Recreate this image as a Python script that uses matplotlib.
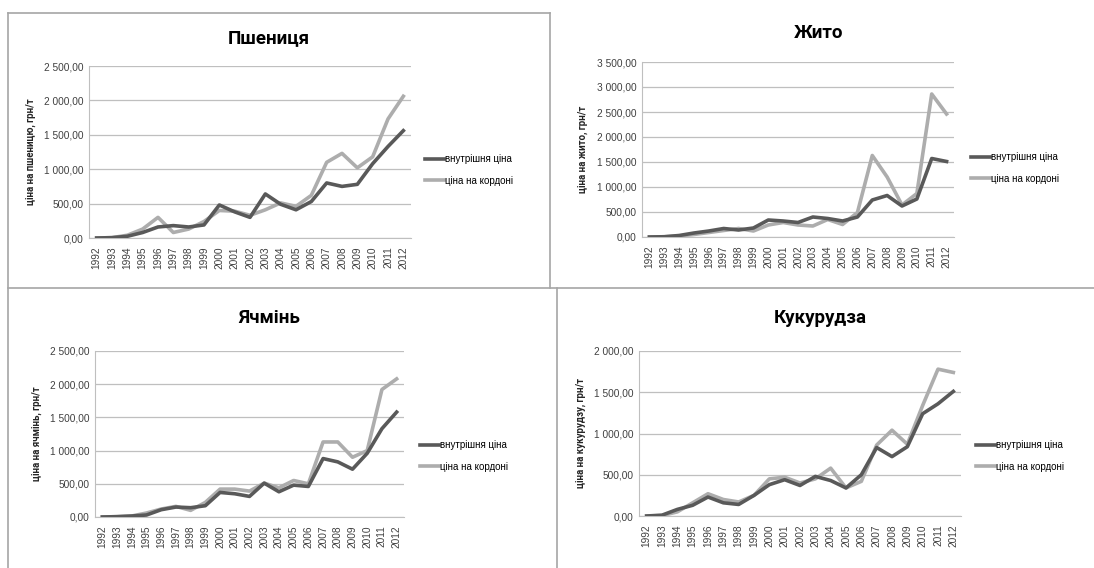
import matplotlib.pyplot as plt
from matplotlib.ticker import FuncFormatter, MultipleLocator

plt.rcParams['font.family'] = ['Liberation Sans Narrow', 'Liberation Sans', 'DejaVu Sans']

years = [str(y) for y in range(1992, 2013)]

wheat_inner = [0, 5, 25, 80, 160, 180, 160, 190, 480, 380, 300, 640, 490, 410, 530, 800, 750, 780, 1080, 1330, 1560]
wheat_border = [0, 5, 40, 130, 300, 80, 130, 240, 400, 390, 330, 410, 510, 460, 620, 1100, 1230, 1020, 1180, 1730, 2060]

rye_inner = [0, 5, 30, 80, 120, 170, 140, 180, 340, 320, 290, 400, 370, 320, 400, 740, 830, 620, 760, 1570, 1510]
rye_border = [0, 5, 20, 50, 90, 130, 170, 120, 240, 290, 240, 220, 350, 250, 490, 1630, 1200, 640, 870, 2860, 2460]

barley_inner = [0, 5, 15, 30, 110, 150, 140, 170, 370, 350, 310, 510, 380, 480, 460, 880, 830, 720, 960, 1330, 1580]
barley_border = [0, 5, 15, 60, 120, 160, 100, 220, 420, 420, 390, 510, 440, 550, 500, 1130, 1130, 900, 1000, 1920, 2080]

corn_inner = [0, 10, 80, 130, 230, 160, 140, 250, 380, 440, 370, 480, 430, 340, 500, 830, 720, 840, 1240, 1360, 1510]
corn_border = [0, 5, 50, 160, 270, 200, 170, 250, 450, 470, 400, 450, 580, 340, 420, 860, 1040, 870, 1340, 1780, 1740]

series_names = ['внутрішня ціна', 'ціна на кордоні']

W, H = 1094, 568
fig = plt.figure(figsize=(W / 100, H / 100), dpi=100)


def px_rect(x0, y0, x1, y1):
    # pixel box (top-left origin) -> figure fraction [left, bottom, width, height]
    return [x0 / W, 1 - y1 / H, (x1 - x0) / W, (y1 - y0) / H]


def fmt(v, pos):
    return f"{v:,.2f}".replace(",", " ").replace(".", ",")


# panel borders
bg = fig.add_axes([0, 0, 1, 1], zorder=-1)
bg.set_xlim(0, W)
bg.set_ylim(H, 0)
bg.axis('off')
border = dict(color='#a6a6a6', lw=1.2)
bg.plot([8, 550], [13, 13], **border)
bg.plot([8, 8], [13, 568], **border)
bg.plot([550, 550], [13, 288], **border)
bg.plot([8, 1094], [288, 288], **border)
bg.plot([557, 557], [288, 568], **border)

panels = [
    ("Пшениця", wheat_inner, wheat_border, 2500, "ціна на пшеницю, грн/т",
     (89, 66, 411, 238), (269, 38), (425, 170)),
    ("Жито", rye_inner, rye_border, 3500, "ціна на жито, грн/т",
     (642, 62, 954, 237), (819, 33), (971, 168)),
    ("Ячмінь", barley_inner, barley_border, 2500, "ціна на ячмінь, грн/т",
     (95, 351, 404, 517), (269, 318), (420, 456)),
    ("Кукурудза", corn_inner, corn_border, 2000, "ціна на кукурудзу, грн/т",
     (639, 351, 961, 516), (820, 318), (976, 456)),
]

for title, inner, outer, ymax, ylabel, box, tpos, lpos in panels:
    ax = fig.add_axes(px_rect(*box))
    x = range(len(years))
    ax.plot(x, inner, color='#595959', lw=2.6, label=series_names[0], zorder=3)
    ax.plot(x, outer, color='#adadad', lw=2.6, label=series_names[1], zorder=2)
    ax.set_xlim(-0.5, len(years) - 0.5)
    ax.set_ylim(0, ymax)
    ax.yaxis.set_major_locator(MultipleLocator(500))
    ax.yaxis.set_major_formatter(FuncFormatter(fmt))
    ax.set_xticks(list(x))
    ax.set_xticklabels(years, rotation=90)
    ax.grid(axis='y', color='#bfbfbf', lw=0.9)
    ax.set_axisbelow(True)
    for side in ['top', 'right']:
        ax.spines[side].set_visible(False)
    for side in ['left', 'bottom']:
        ax.spines[side].set_color('#bfbfbf')
    ax.tick_params(axis='both', labelsize=7.3, colors='#404040', length=0, pad=4)
    ax.tick_params(axis='x', pad=6)
    ax.set_ylabel(ylabel, fontsize=7, fontweight='bold', color='#262626',
                  family=['Roboto', 'DejaVu Sans'], labelpad=6)
    fig.text(tpos[0] / W, 1 - tpos[1] / H, title, fontsize=13.5, fontweight='bold',
             ha='center', va='center', family=['Roboto', 'DejaVu Sans'])
    ax.legend(loc='center left', bbox_to_anchor=(lpos[0] / W, 1 - lpos[1] / H),
              bbox_transform=fig.transFigure, frameon=False, fontsize=7,
              handlelength=2.0, handletextpad=0.1, labelspacing=1.2,
              borderpad=0, borderaxespad=0)

plt.savefig('out.png', dpi=100)
